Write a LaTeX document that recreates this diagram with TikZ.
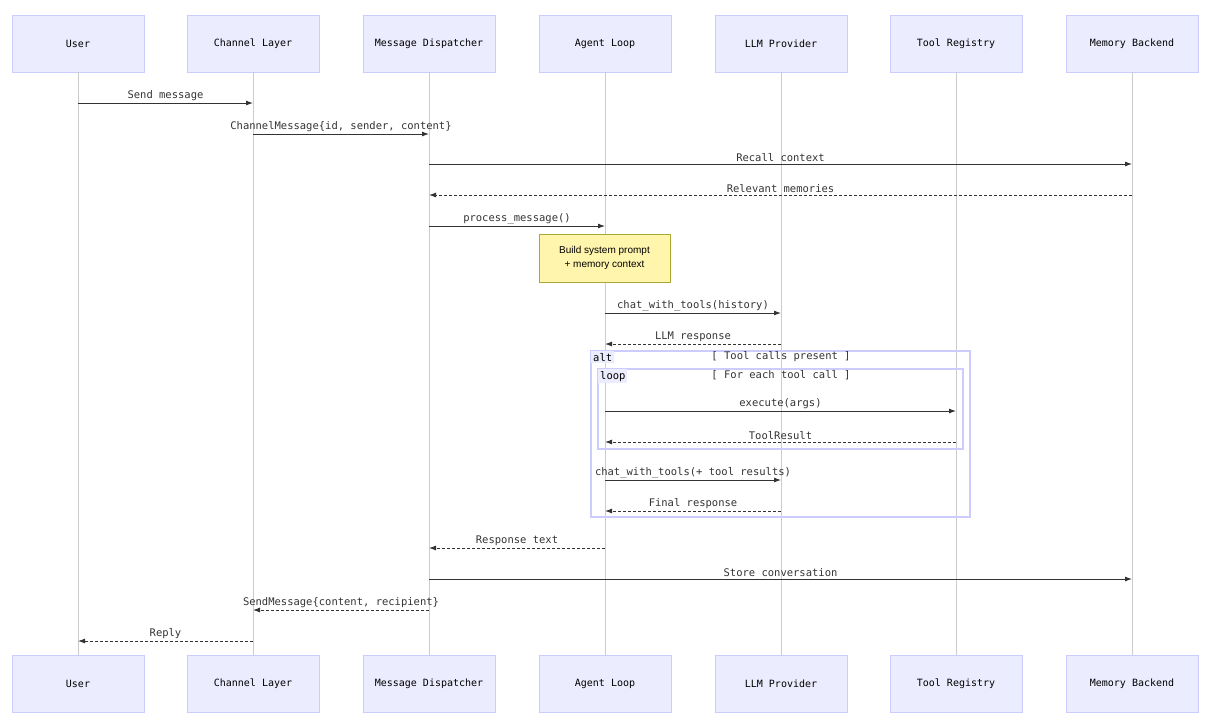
\documentclass[tikz,border=0pt]{standalone}
\usepackage{fontspec}
\setmainfont{Liberation Sans}
\newfontfamily\monof{DejaVu Sans Mono}
\usetikzlibrary{arrows.meta,positioning}
\definecolor{actfill}{HTML}{ECECFF}
\definecolor{actline}{HTML}{CCCCFF}
\definecolor{notefill}{HTML}{FFF5AD}
\definecolor{noteline}{HTML}{AAAA33}
\definecolor{msgline}{HTML}{333333}
\tikzset{
  actor/.style={draw=actline,fill=actfill,minimum width=132pt,minimum height=57pt,
    font=\monof\fontsize{10}{12}\selectfont,inner sep=0pt},
  life/.style={draw=black!20,line width=0.6pt},
  msg/.style={draw=msgline,line width=0.9pt,-{Latex[length=7pt,width=5pt]}},
  reply/.style={msg,dash pattern=on 3pt off 2pt},
  msglabel/.style={font=\monof\fontsize{10.5}{12}\selectfont,text=msgline,above=1pt,inner sep=1pt},
  frame/.style={draw=actline,line width=1.4pt},
  tag/.style={fill=actfill,font=\monof\fontsize{10.5}{12}\selectfont,inner sep=2pt,anchor=north west}
}
\begin{document}
\begin{tikzpicture}[x=1pt,y=-1pt]
\useasboundingbox (0,0) rectangle (1209,724);
% participants
\foreach \n/\x/\t in {us/78/User,ch/253/Channel Layer,md/429/Message Dispatcher,ag/605/Agent Loop,
  llm/781/LLM Provider,tr/956/Tool Registry,mb/1132/Memory Backend}{
  \node[actor] (\n T) at (\x,43.5) {\t};
  \node[actor] (\n B) at (\x,684) {\t};
  \draw[life] (\n T.south) -- (\n B.north);
}
% note
\node[draw=noteline,fill=notefill,minimum width=131pt,minimum height=48pt,align=center,
  font=\fontsize{10}{14}\selectfont] (note) at (604.5,258) {Build system prompt\\+ memory context};
% frames
\draw[frame] (591,351) rectangle (970,517);
\draw[frame] (598,369) rectangle (963,449);
\node[tag] (altTag) at (591,351) {alt\hspace{8pt}};
\node[tag] (loopTag) at (598,369) {loop\hspace{2pt}};
\node[font=\monof\fontsize{10.5}{12}\selectfont,text=msgline] at (781,357) {[ Tool calls present ]};
\node[font=\monof\fontsize{10.5}{12}\selectfont,text=msgline] at (781,375) {[ For each tool call ]};
% messages
\foreach \a/\b/\y/\s/\t in {
  usT/chT/103/msg/Send message,
  chT/mdT/134/msg/{ChannelMessage\{id, sender, content\}},
  mdT/mbT/164/msg/Recall context,
  mbT/mdT/195/reply/Relevant memories,
  mdT/agT/226/msg/process\_message(),
  agT/llmT/313/msg/chat\_with\_tools(history),
  llmT/agT/344/reply/LLM response,
  agT/trT/411/msg/execute(args),
  trT/agT/442/reply/ToolResult,
  agT/llmT/480/msg/chat\_with\_tools(+ tool results),
  llmT/agT/511/reply/Final response,
  agT/mdT/548/reply/Response text,
  mdT/mbT/579/msg/Store conversation,
  mdT/chT/610/reply/{SendMessage\{content, recipient\}},
  chT/usT/641/reply/Reply}{
  \draw[\s] (\a |- 0,\y) -- node[msglabel] {\t} (\b |- 0,\y);
}
\end{tikzpicture}
\end{document}
